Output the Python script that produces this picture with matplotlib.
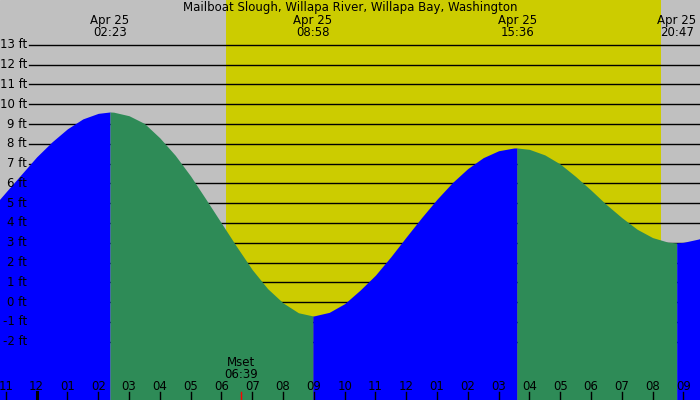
import matplotlib
matplotlib.use("Agg")
import matplotlib.pyplot as plt
import matplotlib.transforms as mtransforms
import numpy as np

plt.rcParams['font.family'] = ['DejaVu Sans']

title = "Mailboat Slough, Willapa River, Willapa Bay, Washington"

# tide heights (ft), hours after midnight Apr 25
times = [-1.5, -1.0, -0.5, 0.0, 0.5, 1.0, 1.5, 2.0, 2.383,
         2.5, 3.0, 3.5, 4.0, 4.5, 5.0, 5.5, 6.0, 6.5, 7.0, 7.5, 8.0, 8.5, 8.967,
         9.0, 9.5, 10.0, 10.5, 11.0, 11.5, 12.0, 12.5, 13.0, 13.5, 14.0, 14.5, 15.0, 15.5, 15.6,
         16.0, 16.5, 17.0, 17.5, 18.0, 18.5, 19.0, 19.5, 20.0, 20.5, 20.783,
         21.0, 21.5, 22.0]
heights = [4.66, 5.56, 6.45, 7.34, 8.10, 8.76, 9.26, 9.54, 9.61,
           9.60, 9.42, 9.03, 8.30, 7.42, 6.37, 5.19, 3.99, 2.79, 1.64, 0.68, -0.04, -0.54, -0.70,
           -0.70, -0.52, -0.08, 0.60, 1.36, 2.29, 3.29, 4.27, 5.20, 6.04, 6.75, 7.30, 7.65, 7.79, 7.79,
           7.72, 7.44, 6.98, 6.35, 5.66, 4.93, 4.27, 3.68, 3.26, 3.03, 2.99,
           3.02, 3.19, 3.54]

# tide extremes
event_times = [2.383, 8.967, 15.6, 20.783]
event_labels = ["02:23", "08:58", "15:36", "20:47"]
event_date = "Apr 25"

sunrise = 6.15
sunset = 20.27
moonset = 6.65
moonset_label = "06:39"

ft_levels = list(range(-2, 14))
hour_ticks = list(range(-1, 22))
hour_labels = ["11", "12", "01", "02", "03", "04", "05", "06", "07", "08", "09", "10", "11",
               "12", "01", "02", "03", "04", "05", "06", "07", "08", "09"]

BG = "#c0c0c0"
DAY = "#cccc00"
RISE = "#0000ff"
FALL = "#2e8b57"
FS = 8.5

fig = plt.figure(figsize=(7, 4), dpi=100)
ax = fig.add_axes([0, 0, 1, 1])
ax.set_facecolor(BG)
xmin, xmax = -1.19, 21.54
ymin, ymax = -4.95, 15.27
ax.set_xlim(xmin, xmax)
ax.set_ylim(ymin, ymax)
ax.axis('off')
ax.add_patch(plt.Rectangle((0, 0), 1, 1, transform=ax.transAxes, color=BG, zorder=0))

ax.axvspan(sunrise, sunset, color=DAY, zorder=1, lw=0)

hx = mtransforms.blended_transform_factory(ax.transAxes, ax.transData)
vx = mtransforms.blended_transform_factory(ax.transData, ax.transAxes)

for lv in ft_levels:
    ax.plot([29 / 700, 1], [lv, lv], transform=hx, color='black', lw=1, zorder=2)
    ax.text(27 / 700, lv, f"{lv} ft", transform=hx, ha='right', va='center',
            fontsize=FS, color='black', zorder=5)

t = np.array(times)
h = np.array(heights)
bounds = [xmin - 1] + event_times + [xmax + 1]
for i in range(len(bounds) - 1):
    m = (t >= bounds[i]) & (t <= bounds[i + 1])
    col = RISE if i % 2 == 0 else FALL
    ax.fill_between(t[m], ymin, h[m], color=col, lw=0, zorder=3)

# labels
ax.text(0.5, 1 - 11.5 / 400, title, transform=ax.transAxes, ha='center', va='baseline',
        fontsize=FS, color='black', zorder=6)
for et, el in zip(event_times, event_labels):
    ax.text(et, 1 - 24 / 400, event_date, transform=vx, ha='center', va='baseline',
            fontsize=FS, zorder=6)
    ax.text(et, 1 - 36 / 400, el, transform=vx, ha='center', va='baseline',
            fontsize=FS, zorder=6)

for ht, hl in zip(hour_ticks, hour_labels):
    ax.text(ht, 10 / 400, hl, transform=vx, ha='center', va='baseline', fontsize=FS, zorder=6)
    ax.plot([ht, ht], [0, 8 / 400], transform=vx, color='black',
            lw=2.2 if ht == 0 else 1, zorder=6)

ax.text(moonset, 34 / 400, "Mset", transform=vx, ha='center', va='baseline', fontsize=FS, zorder=6)
ax.text(moonset, 22.5 / 400, moonset_label, transform=vx, ha='center', va='baseline', fontsize=FS, zorder=6)
ax.plot([moonset, moonset], [0, 8 / 400], transform=vx, color='red', lw=1, zorder=6)

fig.savefig("out.png", dpi=100)
